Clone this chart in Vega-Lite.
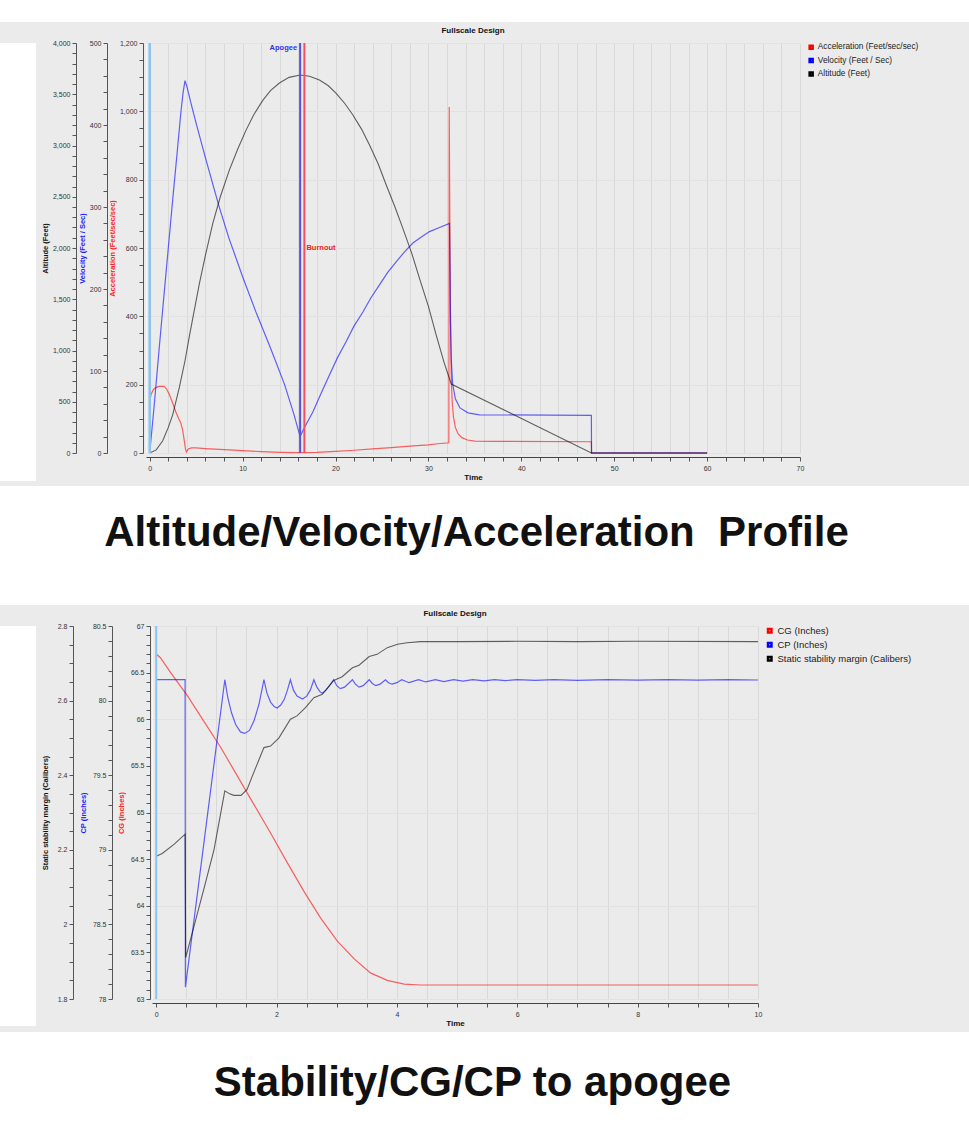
{
  "$schema": "https://vega.github.io/schema/vega-lite/v6.json",
  "background": "#ebebeb",
  "padding": 0,
  "spacing": 4,
  "resolve": {"scale": {"color": "independent"}, "legend": {"color": "independent"}},
  "config": {
    "font": "Liberation Sans",
    "axis": {"labelFont": "Liberation Sans", "labelFontSize": 7, "labelColor": "#333", "titleFont": "Liberation Sans", "titleFontSize": 7.5, "titleFontWeight": "bold", "titleColor": "#111", "domainColor": "#555", "tickColor": "#555", "tickSize": 4, "labelPadding": 2, "titlePadding": 3, "grid": false, "labelFlush": false, "labelOverlap": false},
    "legend": {"orient": "right", "offset": 7, "padding": 0, "title": null, "labelFont": "Liberation Sans", "labelFontSize": 8.3, "labelColor": "#222", "symbolType": "square", "symbolSize": 9, "symbolStrokeWidth": 2.5, "symbolOpacity": 1, "rowPadding": 3.4, "clipHeight": 8.3, "labelOffset": 2.5},
    "title": {"font": "Liberation Sans", "fontSize": 8, "fontWeight": "bold", "color": "#111", "frame": "group", "offset": 4, "anchor": "middle"}
  },
  "datasets": {
    "accel": [{"t":0,"v":150},{"t":0.15,"v":172},{"t":0.4,"v":186},{"t":0.7,"v":192},{"t":1.0,"v":195},{"t":1.55,"v":195},{"t":1.8,"v":188},{"t":2.1,"v":172},{"t":2.45,"v":148},{"t":2.8,"v":121},{"t":3.1,"v":102},{"t":3.35,"v":88},{"t":3.55,"v":66},{"t":3.7,"v":40},{"t":3.85,"v":12},{"t":3.95,"v":3},{"t":4.15,"v":12},{"t":4.5,"v":15},{"t":5,"v":15},{"t":6,"v":13},{"t":8,"v":10},{"t":10,"v":7},{"t":12,"v":4},{"t":14,"v":2},{"t":16.2,"v":1},{"t":18,"v":2},{"t":20,"v":5},{"t":22,"v":8},{"t":24,"v":12},{"t":26,"v":16},{"t":28,"v":20},{"t":30,"v":24},{"t":31,"v":27},{"t":32.2,"v":30},{"t":32.24,"v":1013},{"t":32.3,"v":700},{"t":32.38,"v":380},{"t":32.46,"v":220},{"t":32.56,"v":150},{"t":32.7,"v":105},{"t":32.9,"v":75},{"t":33.2,"v":56},{"t":33.6,"v":45},{"t":34.2,"v":38},{"t":35,"v":35},{"t":37,"v":34},{"t":47.54,"v":33},{"t":47.56,"v":0},{"t":60,"v":0}],
    "vel": [{"t":0,"v":0},{"t":0.5,"v":60},{"t":1,"v":125},{"t":1.5,"v":188},{"t":2,"v":250},{"t":2.5,"v":312},{"t":3,"v":372},{"t":3.35,"v":415},{"t":3.6,"v":440},{"t":3.8,"v":454},{"t":4.0,"v":447},{"t":4.5,"v":424},{"t":5,"v":402},{"t":6,"v":360},{"t":7.43,"v":302},{"t":8.5,"v":263},{"t":10,"v":215},{"t":11.5,"v":170},{"t":13,"v":128},{"t":14.5,"v":84},{"t":15.5,"v":48},{"t":16.19,"v":20},{"t":16.6,"v":30},{"t":17.56,"v":50},{"t":18.5,"v":74},{"t":19.35,"v":95},{"t":20.2,"v":116},{"t":21.15,"v":136},{"t":22,"v":155},{"t":22.95,"v":172},{"t":23.8,"v":189},{"t":24.73,"v":205},{"t":25.6,"v":220},{"t":26.53,"v":233},{"t":27.4,"v":245},{"t":28.33,"v":256},{"t":29.2,"v":263},{"t":30.12,"v":270},{"t":31.2,"v":275},{"t":32.27,"v":280},{"t":32.32,"v":230},{"t":32.38,"v":160},{"t":32.46,"v":115},{"t":32.6,"v":85},{"t":32.9,"v":66},{"t":33.4,"v":55},{"t":34.26,"v":49},{"t":35.5,"v":46.5},{"t":47.54,"v":46},{"t":47.56,"v":0},{"t":60,"v":0}],
    "alt": [{"t":0,"v":0},{"t":0.7,"v":30},{"t":1.4,"v":120},{"t":2,"v":250},{"t":2.48,"v":375},{"t":3.19,"v":640},{"t":3.8,"v":900},{"t":4.27,"v":1140},{"t":5.34,"v":1650},{"t":6,"v":1930},{"t":6.79,"v":2240},{"t":7.6,"v":2500},{"t":8.57,"v":2760},{"t":9.5,"v":2970},{"t":10.37,"v":3150},{"t":11.2,"v":3300},{"t":12.17,"v":3440},{"t":13,"v":3535},{"t":13.96,"v":3610},{"t":15,"v":3665},{"t":16.19,"v":3688},{"t":17.2,"v":3675},{"t":18.27,"v":3639},{"t":19.2,"v":3585},{"t":20.07,"v":3509},{"t":21,"v":3410},{"t":21.87,"v":3298},{"t":22.8,"v":3160},{"t":23.66,"v":3005},{"t":24.6,"v":2820},{"t":25.46,"v":2615},{"t":26.4,"v":2400},{"t":27.25,"v":2192},{"t":28.2,"v":1950},{"t":29.04,"v":1704},{"t":30,"v":1430},{"t":30.84,"v":1151},{"t":31.7,"v":880},{"t":32.46,"v":673},{"t":47.54,"v":0},{"t":60,"v":0}],
    "events1": [{"event":"Launch","t":0},{"event":"Apogee","t":16.19},{"event":"Burnout","t":16.65}],
    "cg": [{"t":0,"v":66.70},{"t":0.07,"v":66.66},{"t":0.24,"v":66.50},{"t":0.52,"v":66.25},{"t":0.79,"v":65.98},{"t":1.07,"v":65.70},{"t":1.35,"v":65.39},{"t":1.62,"v":65.09},{"t":1.90,"v":64.78},{"t":2.18,"v":64.46},{"t":2.45,"v":64.16},{"t":2.73,"v":63.87},{"t":3.01,"v":63.62},{"t":3.29,"v":63.43},{"t":3.56,"v":63.28},{"t":3.84,"v":63.20},{"t":4.12,"v":63.16},{"t":4.39,"v":63.15},{"t":10,"v":63.15}],
    "cp": [{"t":0,"v":80.14},{"t":0.48,"v":80.14},{"t":0.485,"v":78.08},{"t":1.14,"v":80.14},{"t":1.19,"v":80.02},{"t":1.25,"v":79.92},{"t":1.32,"v":79.84},{"t":1.4,"v":79.79},{"t":1.47,"v":79.78},{"t":1.55,"v":79.8},{"t":1.63,"v":79.87},{"t":1.71,"v":79.98},{"t":1.79,"v":80.14},{"t":1.84,"v":80.05},{"t":1.9,"v":79.99},{"t":1.96,"v":79.96},{"t":2.01,"v":79.95},{"t":2.07,"v":79.97},{"t":2.13,"v":80.01},{"t":2.18,"v":80.07},{"t":2.23,"v":80.14},{"t":2.28,"v":80.07},{"t":2.34,"v":80.03},{"t":2.43,"v":80.01},{"t":2.5,"v":80.03},{"t":2.56,"v":80.07},{"t":2.62,"v":80.14},{"t":2.67,"v":80.09},{"t":2.72,"v":80.06},{"t":2.76,"v":80.05},{"t":2.82,"v":80.07},{"t":2.88,"v":80.1},{"t":2.95,"v":80.14},{"t":3.0,"v":80.1},{"t":3.06,"v":80.08},{"t":3.13,"v":80.09},{"t":3.26,"v":80.14},{"t":3.31,"v":80.11},{"t":3.37,"v":80.09},{"t":3.44,"v":80.1},{"t":3.54,"v":80.14},{"t":3.59,"v":80.115},{"t":3.65,"v":80.1},{"t":3.72,"v":80.11},{"t":3.81,"v":80.14},{"t":3.86,"v":80.12},{"t":3.92,"v":80.11},{"t":4.0,"v":80.12},{"t":4.08,"v":80.14},{"t":4.2,"v":80.12},{"t":4.36,"v":80.14},{"t":4.48,"v":80.125},{"t":4.64,"v":80.14},{"t":4.78,"v":80.127},{"t":4.94,"v":80.14},{"t":5.1,"v":80.13},{"t":5.26,"v":80.14},{"t":5.45,"v":80.132},{"t":5.62,"v":80.14},{"t":5.8,"v":80.134},{"t":6.0,"v":80.14},{"t":6.3,"v":80.135},{"t":6.6,"v":80.14},{"t":7,"v":80.136},{"t":7.5,"v":80.14},{"t":8,"v":80.137},{"t":8.5,"v":80.14},{"t":9,"v":80.137},{"t":9.5,"v":80.14},{"t":10,"v":80.138}],
    "ssm": [{"t":0,"v":2.183},{"t":0.1,"v":2.19},{"t":0.3,"v":2.215},{"t":0.48,"v":2.242},{"t":0.49,"v":1.911},{"t":0.63,"v":1.996},{"t":0.79,"v":2.094},{"t":0.96,"v":2.2},{"t":1.14,"v":2.358},{"t":1.22,"v":2.35},{"t":1.29,"v":2.346},{"t":1.41,"v":2.346},{"t":1.51,"v":2.362},{"t":1.62,"v":2.407},{"t":1.79,"v":2.474},{"t":1.9,"v":2.478},{"t":2.04,"v":2.5},{"t":2.23,"v":2.55},{"t":2.34,"v":2.559},{"t":2.48,"v":2.581},{"t":2.62,"v":2.608},{"t":2.76,"v":2.617},{"t":2.95,"v":2.654},{"t":3.09,"v":2.664},{"t":3.26,"v":2.688},{"t":3.37,"v":2.695},{"t":3.54,"v":2.718},{"t":3.67,"v":2.724},{"t":3.84,"v":2.742},{"t":4.01,"v":2.751},{"t":4.17,"v":2.755},{"t":4.39,"v":2.758},{"t":5,"v":2.758},{"t":6,"v":2.759},{"t":7,"v":2.758},{"t":8,"v":2.759},{"t":10,"v":2.758}],
    "events2": [{"event":"Launch","t":0}],
    "blank": [{"s":""}],
    "cap1": [{"caption":"Altitude/Velocity/Acceleration\u00a0 Profile"}],
    "cap2": [{"caption":"Stability/CG/CP to apogee"}]
  },
  "vconcat": [
    {
      "width": 969, "height": 22,
      "view": {"fill": "#ffffff", "stroke": null},
      "data": {"name": "blank"},
      "mark": {"type": "text"},
      "encoding": {"text": {"field": "s"}}
    },
    {
      "spacing": 4,
      "resolve": {"scale": {"color": "independent"}, "legend": {"color": "independent"}},
      "hconcat": [
        {
          "width": 36, "height": 438,
          "view": {"fill": "#ffffff", "stroke": null},
          "data": {"name": "blank"},
          "mark": {"type": "text"},
          "encoding": {"text": {"field": "s"}}
        },
        {
          "title": {"text": "Fullscale Design"},
          "width": 654, "height": 410,
          "view": {"fill": "#ebebeb", "stroke": "#f7f7f7"},
          "encoding": {
            "x": {"field": "t", "type": "quantitative", "scale": {"domain": [-0.4, 70], "nice": false, "zero": false},
              "axis": {"values": [0,2,4,6,8,10,12,14,16,18,20,22,24,26,28,30,32,34,36,38,40,42,44,46,48,50,52,54,56,58,60,62,64,66,68,70], "labelExpr": "datum.value % 10 === 0 ? datum.label : ''", "title": "Time", "titleFontSize": 8, "offset": 4, "grid": true, "gridColor": "#d9d9d9", "domainColor": "#444", "labelPadding": 3, "titlePadding": 2}}
          },
          "layer": [
            {
              "data": {"name": "accel"},
              "mark": {"type": "line", "strokeWidth": 1.2, "strokeOpacity": 0.6},
              "encoding": {
                "y": {"field": "v", "type": "quantitative", "scale": {"domain": [0, 1200], "nice": false},
                  "axis": {"orient": "left", "offset": 3, "title": "Acceleration (Feet/sec/sec)", "titleColor": "#ff2020", "values": [0,50,100,150,200,250,300,350,400,450,500,550,600,650,700,750,800,850,900,950,1000,1050,1100,1150,1200], "labelExpr": "datum.value % 200 === 0 ? format(datum.value, ',') : ''", "grid": true, "gridColor": "#e2e2e2", "gridOpacity": {"condition": {"test": "datum.value % 200 === 0", "value": 1}, "value": 0}}},
                "color": {"datum": "Acceleration (Feet/sec/sec)", "scale": {"domain": ["Acceleration (Feet/sec/sec)", "Velocity (Feet / Sec)", "Altitude (Feet)"], "range": ["#ff0000", "#0000ff", "#000000"]}}
              }
            },
            {
              "data": {"name": "vel"},
              "mark": {"type": "line", "strokeWidth": 1.2, "strokeOpacity": 0.6},
              "encoding": {
                "y": {"field": "v", "type": "quantitative", "scale": {"domain": [0, 500], "nice": false},
                  "axis": {"orient": "left", "offset": 39, "title": "Velocity (Feet / Sec)", "titleColor": "#2020ff", "values": [0,20,40,60,80,100,120,140,160,180,200,220,240,260,280,300,320,340,360,380,400,420,440,460,480,500], "labelExpr": "datum.value % 100 === 0 ? format(datum.value, ',') : ''"}},
                "color": {"datum": "Velocity (Feet / Sec)"}
              }
            },
            {
              "data": {"name": "alt"},
              "mark": {"type": "line", "strokeWidth": 1.1, "strokeOpacity": 0.6},
              "encoding": {
                "y": {"field": "v", "type": "quantitative", "scale": {"domain": [0, 4000], "nice": false},
                  "axis": {"orient": "left", "offset": 70, "title": "Altitude (Feet)", "values": [0,100,200,300,400,500,600,700,800,900,1000,1100,1200,1300,1400,1500,1600,1700,1800,1900,2000,2100,2200,2300,2400,2500,2600,2700,2800,2900,3000,3100,3200,3300,3400,3500,3600,3700,3800,3900,4000], "labelExpr": "datum.value % 500 === 0 ? format(datum.value, ',') : ''"}},
                "color": {"datum": "Altitude (Feet)"}
              }
            },
            {
              "data": {"name": "events1"},
              "transform": [{"filter": "datum.event === 'Launch'"}],
              "mark": {"type": "rule", "color": "#8cc4f0", "strokeWidth": 2.5},
              "encoding": {}
            },
            {
              "data": {"name": "events1"},
              "transform": [{"filter": "datum.event === 'Apogee'"}],
              "mark": {"type": "rule", "color": "#5a50e0", "strokeWidth": 2},
              "encoding": {}
            },
            {
              "data": {"name": "events1"},
              "transform": [{"filter": "datum.event === 'Burnout'"}],
              "mark": {"type": "rule", "color": "#f05060", "strokeWidth": 2},
              "encoding": {}
            },
            {
              "data": {"name": "events1"},
              "transform": [{"filter": "datum.event === 'Apogee'"}],
              "mark": {"type": "text", "align": "right", "baseline": "top", "dx": -3, "dy": 1, "fontSize": 7.5, "fontWeight": "bold", "font": "Liberation Sans", "color": "#3030f0"},
              "encoding": {"text": {"field": "event"}, "y": {"datum": 1, "type": "quantitative", "scale": {"domain": [0, 1]}, "axis": null}}
            },
            {
              "data": {"name": "events1"},
              "transform": [{"filter": "datum.event === 'Burnout'"}],
              "mark": {"type": "text", "align": "left", "baseline": "middle", "dx": 2, "fontSize": 7.5, "fontWeight": "bold", "font": "Liberation Sans", "color": "#f02020"},
              "encoding": {"text": {"field": "event"}, "y": {"datum": 0.5, "type": "quantitative", "scale": {"domain": [0, 1]}, "axis": null}}
            }
          ],
          "resolve": {"scale": {"y": "independent"}, "axis": {"y": "independent"}}
        }
      ]
    },
    {
      "width": 969, "height": 119,
      "view": {"fill": "#ffffff", "stroke": null},
      "data": {"name": "cap1"},
      "mark": {"type": "text", "fontSize": 42, "fontWeight": "bold", "font": "Liberation Sans", "color": "#111", "baseline": "middle", "dy": -13, "dx": -8},
      "encoding": {"text": {"field": "caption"}}
    },
    {
      "spacing": 4,
      "resolve": {"scale": {"color": "independent"}, "legend": {"color": "independent"}},
      "hconcat": [
        {
          "width": 36, "height": 400,
          "view": {"fill": "#ffffff", "stroke": null},
          "data": {"name": "blank"},
          "mark": {"type": "text"},
          "encoding": {"text": {"field": "s"}}
        },
        {
          "title": {"text": "Fullscale Design"},
          "width": 606, "height": 373,
          "view": {"fill": "#ebebeb", "stroke": "#f7f7f7"},
          "encoding": {
            "x": {"field": "t", "type": "quantitative", "scale": {"domain": [-0.07, 10], "nice": false, "zero": false},
              "axis": {"values": [0,0.5,1,1.5,2,2.5,3,3.5,4,4.5,5,5.5,6,6.5,7,7.5,8,8.5,9,9.5,10], "labelExpr": "abs(datum.value % 2) < 1e-6 ? format(datum.value, 'd') : ''", "title": "Time", "titleFontSize": 8, "offset": 4, "grid": true, "gridColor": "#d9d9d9", "domainColor": "#444", "labelPadding": 3, "titlePadding": 2}}
          },
          "layer": [
            {
              "data": {"name": "cg"},
              "mark": {"type": "line", "strokeWidth": 1.2, "strokeOpacity": 0.6},
              "encoding": {
                "y": {"field": "v", "type": "quantitative", "scale": {"domain": [63, 67], "nice": false, "zero": false},
                  "axis": {"orient": "left", "offset": 2, "titlePadding": 5, "title": "CG (Inches)", "titleColor": "#ff2020", "values": [63,63.1,63.2,63.3,63.4,63.5,63.6,63.7,63.8,63.9,64,64.1,64.2,64.3,64.4,64.5,64.6,64.7,64.8,64.9,65,65.1,65.2,65.3,65.4,65.5,65.6,65.7,65.8,65.9,66,66.1,66.2,66.3,66.4,66.5,66.6,66.7,66.8,66.9,67], "labelExpr": "abs(datum.value*2 - round(datum.value*2)) < 1e-6 ? format(datum.value, '.1~f') : ''", "grid": true, "gridColor": "#e2e2e2", "gridOpacity": {"condition": {"test": "abs(datum.value - round(datum.value)) < 1e-6", "value": 1}, "value": 0}}},
                "color": {"datum": "CG (Inches)", "scale": {"domain": ["CG (Inches)", "CP (Inches)", "Static stability margin (Calibers)"], "range": ["#ff0000", "#0000ff", "#000000"]}, "legend": {"labelFontSize": 9.5, "clipHeight": 9.5, "rowPadding": 3, "labelOffset": 3, "symbolSize": 12}}
              }
            },
            {
              "data": {"name": "cp"},
              "mark": {"type": "line", "strokeWidth": 1.2, "strokeOpacity": 0.6},
              "encoding": {
                "y": {"field": "v", "type": "quantitative", "scale": {"domain": [78, 80.5], "nice": false, "zero": false},
                  "axis": {"orient": "left", "offset": 40, "titlePadding": 5, "title": "CP (Inches)", "titleColor": "#2020ff", "values": [78,78.1,78.2,78.3,78.4,78.5,78.6,78.7,78.8,78.9,79,79.1,79.2,79.3,79.4,79.5,79.6,79.7,79.8,79.9,80,80.1,80.2,80.3,80.4,80.5], "labelExpr": "abs(datum.value*2 - round(datum.value*2)) < 1e-6 ? format(datum.value, '.1~f') : ''"}},
                "color": {"datum": "CP (Inches)"}
              }
            },
            {
              "data": {"name": "ssm"},
              "mark": {"type": "line", "strokeWidth": 1.1, "strokeOpacity": 0.6},
              "encoding": {
                "y": {"field": "v", "type": "quantitative", "scale": {"domain": [1.8, 2.8], "nice": false, "zero": false},
                  "axis": {"orient": "left", "offset": 79, "titlePadding": 8, "title": "Static stability margin (Calibers)", "values": [1.8,1.85,1.9,1.95,2,2.05,2.1,2.15,2.2,2.25,2.3,2.35,2.4,2.45,2.5,2.55,2.6,2.65,2.7,2.75,2.8], "labelExpr": "abs(datum.value*5 - round(datum.value*5)) < 1e-6 ? format(datum.value, '.1~f') : ''"}},
                "color": {"datum": "Static stability margin (Calibers)"}
              }
            },
            {
              "data": {"name": "events2"},
              "mark": {"type": "rule", "color": "#8cc4f0", "strokeWidth": 2},
              "encoding": {}
            }
          ],
          "resolve": {"scale": {"y": "independent"}, "axis": {"y": "independent"}}
        }
      ]
    },
    {
      "width": 969, "height": 112,
      "view": {"fill": "#ffffff", "stroke": null},
      "data": {"name": "cap2"},
      "mark": {"type": "text", "fontSize": 42, "fontWeight": "bold", "font": "Liberation Sans", "color": "#111", "baseline": "middle", "dy": -5, "dx": -12},
      "encoding": {"text": {"field": "caption"}}
    }
  ]
}
